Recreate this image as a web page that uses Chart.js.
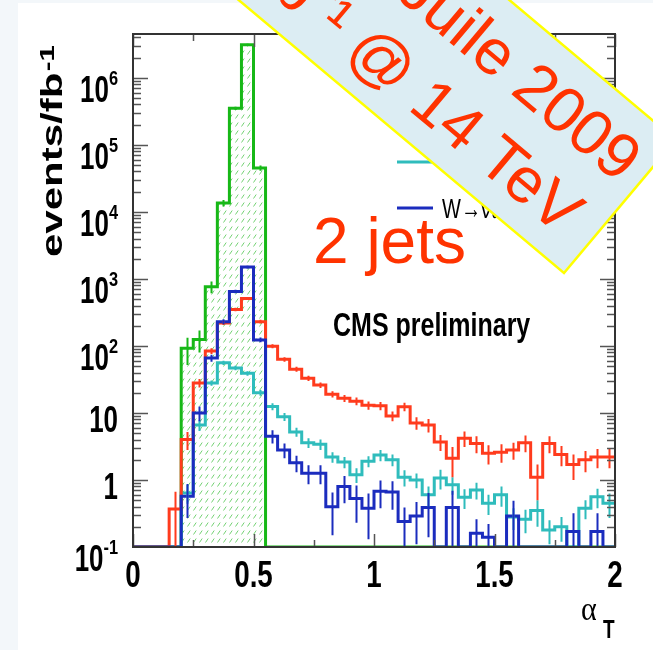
<!DOCTYPE html>
<html>
<head>
<meta charset="utf-8">
<script src="https://cdn.jsdelivr.net/npm/chart.js@4.4.1/dist/chart.umd.min.js"></script>
<style>
  html, body { margin: 0; padding: 0; background: #fff; }
  #wrap { width: 653px; height: 650px; }
</style>
</head>
<body>
<div id="wrap"><canvas id="myChart" width="653" height="650"></canvas></div>
<script>
// histogram bin edges in alpha_T (40 bins of 0.05)
const binEdges = [0, 0.05, 0.1, 0.15, 0.2, 0.25, 0.3, 0.35, 0.4, 0.45,
  0.5, 0.55, 0.6, 0.65, 0.7, 0.75, 0.8, 0.85, 0.9, 0.95,
  1.0, 1.05, 1.1, 1.15, 1.2, 1.25, 1.3, 1.35, 1.4, 1.45,
  1.5, 1.55, 1.6, 1.65, 1.7, 1.75, 1.8, 1.85, 1.9, 1.95, 2.0];

// events/fb-1 per bin (0 = empty bin)
const qcdValues = [0, 0, 0, 0, 92, 125, 760, 13500, 350000, 3100000,
  45000, 0, 0, 0, 0, 0, 0, 0, 0, 0,
  0, 0, 0, 0, 0, 0, 0, 0, 0, 0,
  0, 0, 0, 0, 0, 0, 0, 0, 0, 0];
const ttbarValues = [0, 0, 0, 0.37, 4, 28, 84, 220, 350, 510,
  230, 99, 63, 45, 33, 26, 19, 16.5, 15, 13,
  12.8, 9, 12.4, 7.1, 6.6, 3.7, 2.1, 4.2, 3.5, 2.5,
  2.6, 2.8, 3.6, 1.1, 3.5, 2.4, 1.7, 2.0, 2.2, 2.2];
const znnValues = [0, 0, 0, 0, 0.64, 6.6, 28, 56, 47, 39,
  20, 12.5, 8.8, 5.2, 3.6, 3.4, 2.2, 1.85, 1.2, 1.9,
  2.35, 2.0, 1.1, 1.0, 0.6, 1.07, 0.85, 0.55, 0.71, 0.45,
  0.6, 0.28, 0.26, 0.35, 0.18, 0.2, 0, 0.38, 0.56, 0.45];
const wlnValues = [0, 0, 0, 0, 0.57, 10, 66, 230, 650, 1500,
  123, 4.5, 2.8, 1.8, 1.26, 1.26, 0.4, 0.8, 0.53, 0.38,
  0.68, 0.66, 0.24, 0.29, 0.39, 0, 0.39, 0, 0.16, 0.14,
  0, 0.29, 0, 0, 0, 0, 0.17, 0, 0.17, 0];

// statistical errors per bin (estimated from the error bars)
const qcdErrors = [0, 0, 0, 0, 40, 45, 150, 1500, 20000, 120000,
  4000, 0, 0, 0, 0, 0, 0, 0, 0, 0,
  0, 0, 0, 0, 0, 0, 0, 0, 0, 0,
  0, 0, 0, 0, 0, 0, 0, 0, 0, 0];
const ttbarErrors = [0, 0, 0, 0.3, 1.2, 4, 8, 15, 20, 25,
  15, 7, 5, 4, 3, 2.5, 2, 2, 2, 1.8,
  1.8, 1.5, 1.8, 1.5, 1.5, 1.0, 1.0, 1.1, 1.0, 0.8,
  0.8, 0.8, 1.0, 0.6, 1.0, 0.8, 0.7, 0.7, 0.7, 0.7];
const znnErrors = [0, 0, 0, 0, 0.2, 1.2, 2.5, 4, 3.5, 3,
  2, 1.5, 1.2, 0.8, 0.6, 0.6, 0.4, 0.35, 0.3, 0.35,
  0.45, 0.4, 0.3, 0.25, 0.2, 0.35, 0.25, 0.18, 0.2, 0.15,
  0.2, 0.1, 0.1, 0.15, 0.07, 0.08, 0, 0.12, 0.18, 0.18];
const wlnErrors = [0, 0, 0, 0, 0.3, 2.5, 8, 20, 40, 70,
  10, 1, 0.7, 0.5, 0.4, 0.4, 0.25, 0.35, 0.3, 0.25,
  0.3, 0.3, 0.15, 0.18, 0.25, 0, 0.3, 0, 0.1, 0.08,
  0, 0.2, 0, 0, 0, 0, 0.15, 0, 0.15, 0];

const seriesLabels = ["QCD", "t t\u0304", "Z\u2192\u03bd\u03bd", "W\u2192\u03bd\u2113"];
const seriesColors = ["#17b817", "#ff3b1d", "#2fbcbc", "#1b2cbe"];

const xTickValues = [0, 0.5, 1, 1.5, 2];
const xTickLabels = ["0", "0.5", "1", "1.5", "2"];
const yTickValues = [0.1, 1, 10, 100, 1e3, 1e4, 1e5, 1e6];
const yTickLabels = ["10^-1", "1", "10", "10^2", "10^3", "10^4", "10^5", "10^6"];

const bannerLines = ["Juile 2009", "1 fb\u207b\u00b9 @ 14 TeV"];

const Y_MIN = 0.1, Y_MAX = 4.5e6;
const SANS = '"Liberation Sans", Arial, sans-serif';

const canvas = document.getElementById("myChart");
const ctx = canvas.getContext("2d");

// diagonal dash hatch for the QCD histogram
function makeHatch() {
  const p = document.createElement("canvas");
  p.width = 6; p.height = 8;
  const g = p.getContext("2d");
  g.strokeStyle = "rgba(70,195,70,0.75)";
  g.lineWidth = 1;
  g.beginPath(); g.moveTo(1.5, 6.5); g.lineTo(4.2, 2.5); g.stroke();
  return ctx.createPattern(p, "repeat");
}

// histogram outline: one point per lower edge + closing edge
function histPoints(vals) {
  const pts = vals.map((v, i) => ({ x: binEdges[i], y: v > 0 ? v : Y_MIN }));
  const last = vals[vals.length - 1];
  pts.push({ x: binEdges[vals.length], y: last > 0 ? last : Y_MIN });
  return pts;
}

function histDataset(idx, vals, errs, order, extra) {
  return Object.assign({
    label: seriesLabels[idx],
    data: histPoints(vals),
    values: vals,
    errors: errs,
    borderColor: seriesColors[idx],
    borderWidth: 3,
    stepped: "before",
    pointRadius: 0,
    fill: false,
    order: order
  }, extra || {});
}

function isDecade(v) {
  const l = Math.log10(v);
  return Math.abs(l - Math.round(l)) < 1e-6;
}

// text squeezed/stretched like the ROOT original
function stretchText(c, text, x, y, font, sx, sy, align) {
  c.save();
  c.translate(x, y);
  c.scale(sx, sy);
  c.font = font;
  c.textAlign = align || "left";
  c.textBaseline = "alphabetic";
  c.fillText(text, 0, 0);
  c.restore();
}

const decor = {
  id: "decor",
  beforeDraw(chart) {
    const c = chart.ctx;
    c.save();
    c.fillStyle = "#ffffff";
    c.fillRect(0, 0, chart.width, chart.height);
    c.fillStyle = "#f3f7fa";
    c.fillRect(0, 0, 18, chart.height);
    c.fillRect(0, 0, chart.width, 3);
    c.restore();
  },
  afterDatasetsDraw(chart) {
    const c = chart.ctx;
    const a = chart.chartArea;
    const xs = chart.scales.x, ys = chart.scales.y;
    c.save();

    // vertical error bars at bin centres, bottom series first
    c.save();
    c.beginPath();
    c.rect(a.left, a.top, a.right - a.left, a.bottom - a.top);
    c.clip();
    const ds = chart.data.datasets.slice().sort((p, q) => q.order - p.order);
    ds.forEach(d => {
      c.strokeStyle = d.borderColor;
      c.lineWidth = 2;
      c.beginPath();
      d.values.forEach((v, i) => {
        const e = d.errors[i];
        if (!(v > 0) || !(e > 0)) return;
        const px = Math.round(xs.getPixelForValue((binEdges[i] + binEdges[i + 1]) / 2)) + 0.5;
        const lo = Math.max(v - e, Y_MIN);
        c.moveTo(px, ys.getPixelForValue(lo));
        c.lineTo(px, ys.getPixelForValue(v + e));
      });
      c.stroke();
    });
    c.restore();

    // inward ticks
    c.strokeStyle = "#555";
    c.lineWidth = 1.5;
    c.beginPath();
    ys.ticks.forEach(t => {
      const v = t.value;
      if (v <= Y_MIN * 1.001 || v >= Y_MAX) return;
      const m = v / Math.pow(10, Math.floor(Math.log10(v) + 1e-9));
      if (Math.abs(m - Math.round(m)) > 1e-6) return;
      const len = isDecade(v) ? 15 : 8;
      const py = Math.round(ys.getPixelForValue(v)) + 0.5;
      c.moveTo(a.left, py); c.lineTo(a.left + len, py);
      c.moveTo(a.right, py); c.lineTo(a.right - len, py);
    });
    xs.ticks.forEach(t => {
      const major = xTickValues.some(v => Math.abs(v - t.value) < 1e-9);
      const len = major ? 13 : 7;
      const px = Math.round(xs.getPixelForValue(t.value)) + 0.5;
      c.moveTo(px, a.bottom); c.lineTo(px, a.bottom - len);
      c.moveTo(px, a.top); c.lineTo(px, a.top + len);
    });
    c.stroke();
    // frame
    c.strokeStyle = "#333";
    c.lineWidth = 2;
    c.strokeRect(a.left, a.top, a.right - a.left, a.bottom - a.top);

    // tick labels
    c.fillStyle = "#000";
    xTickValues.forEach((v, k) => {
      stretchText(c, xTickLabels[k], xs.getPixelForValue(v), 587,
        "bold 37px " + SANS, 0.75, 1, "center");
    });
    yTickValues.forEach((v, k) => {
      const py = ys.getPixelForValue(v);
      const parts = yTickLabels[k].split("^");
      if (parts.length === 2) {
        c.font = "bold 21px " + SANS;
        const ew = c.measureText(parts[1]).width * 0.78;
        stretchText(c, parts[1], 118, py + 7, "bold 21px " + SANS, 0.78, 1, "right");
        stretchText(c, parts[0], 118 - ew, py + 24, "bold 37px " + SANS, 0.7, 1, "right");
      } else {
        stretchText(c, parts[0], 118, py + 19, "bold 37px " + SANS, 0.7, 1, "right");
      }
    });

    // legend (partly hidden under the banner)
    const legY = [70, 116, 162, 208];
    legY.forEach((y, i) => {
      c.strokeStyle = seriesColors[i];
      c.lineWidth = 3;
      c.beginPath(); c.moveTo(397, y); c.lineTo(433, y); c.stroke();
      c.fillStyle = "#000";
      stretchText(c, seriesLabels[i], 442, y + 10, "20px " + SANS, 1, 1.4);
    });

    // CMS preliminary
    c.fillStyle = "#000";
    stretchText(c, "CMS preliminary", 333, 336, "bold 25px " + SANS, 1, 1.35);
    c.restore();
  },
  afterDraw(chart) {
    const c = chart.ctx;
    c.save();
    // y axis title
    c.save();
    c.translate(62, 257);
    c.rotate(-Math.PI / 2);
    c.scale(1.4, 1);
    c.fillStyle = "#000";
    c.font = "bold 30px " + SANS;
    c.textBaseline = "alphabetic";
    c.fillText("events/fb", 0, 0);
    const w = c.measureText("events/fb").width;
    c.font = "bold 21px " + SANS;
    c.fillText("-1", w + 1, -8);
    c.restore();

    // x axis title
    c.fillStyle = "#000";
    stretchText(c, "\u03b1", 581, 620, '30px "Liberation Serif", "DejaVu Serif", serif', 1, 1.1);
    stretchText(c, "T", 603, 638, "bold 19px " + SANS, 1, 1.35);

    // 2 jets
    c.fillStyle = "#ff3300";
    c.font = "64px " + SANS;
    c.fillText("2 jets", 313, 263);

    // rotated banner
    c.save();
    c.translate(564, 273);
    c.rotate(40 * Math.PI / 180);
    c.beginPath();
    c.rect(-900, -174, 900, 174);
    c.fillStyle = "#dcedf3";
    c.fill();
    c.strokeStyle = "#ffff00";
    c.lineWidth = 2.5;
    c.stroke();
    c.fillStyle = "#ff3300";
    c.font = "64px " + SANS;
    c.textAlign = "right";
    c.fillText(bannerLines[0], -16, -103);
    c.fillText(bannerLines[1], -27, -25);
    c.restore();
    c.restore();
  }
};

const chart = new Chart(ctx, {
  type: "line",
  data: {
    datasets: [
      histDataset(3, wlnValues, wlnErrors, 0),
      histDataset(1, ttbarValues, ttbarErrors, 1),
      histDataset(2, znnValues, znnErrors, 2),
      histDataset(0, qcdValues, qcdErrors, 3, { fill: "start", backgroundColor: makeHatch() })
    ]
  },
  options: {
    responsive: false,
    animation: false,
    layout: { padding: { left: 0, right: 38, top: 34, bottom: 0 } },
    plugins: { legend: { display: false }, tooltip: { enabled: false } },
    elements: { line: { tension: 0 } },
    scales: {
      x: {
        type: "linear",
        min: 0,
        max: 2,
        grid: { display: false, drawTicks: false },
        border: { display: false },
        ticks: { stepSize: 0.25, autoSkip: false, display: false },
        afterFit: s => { s.height = 103; }
      },
      y: {
        type: "logarithmic",
        min: Y_MIN,
        max: Y_MAX,
        grid: { display: false, drawTicks: false },
        border: { display: false },
        ticks: { autoSkip: false, display: false },
        afterFit: s => { s.width = 133; }
      }
    }
  },
  plugins: [decor]
});
</script>
</body>
</html>
